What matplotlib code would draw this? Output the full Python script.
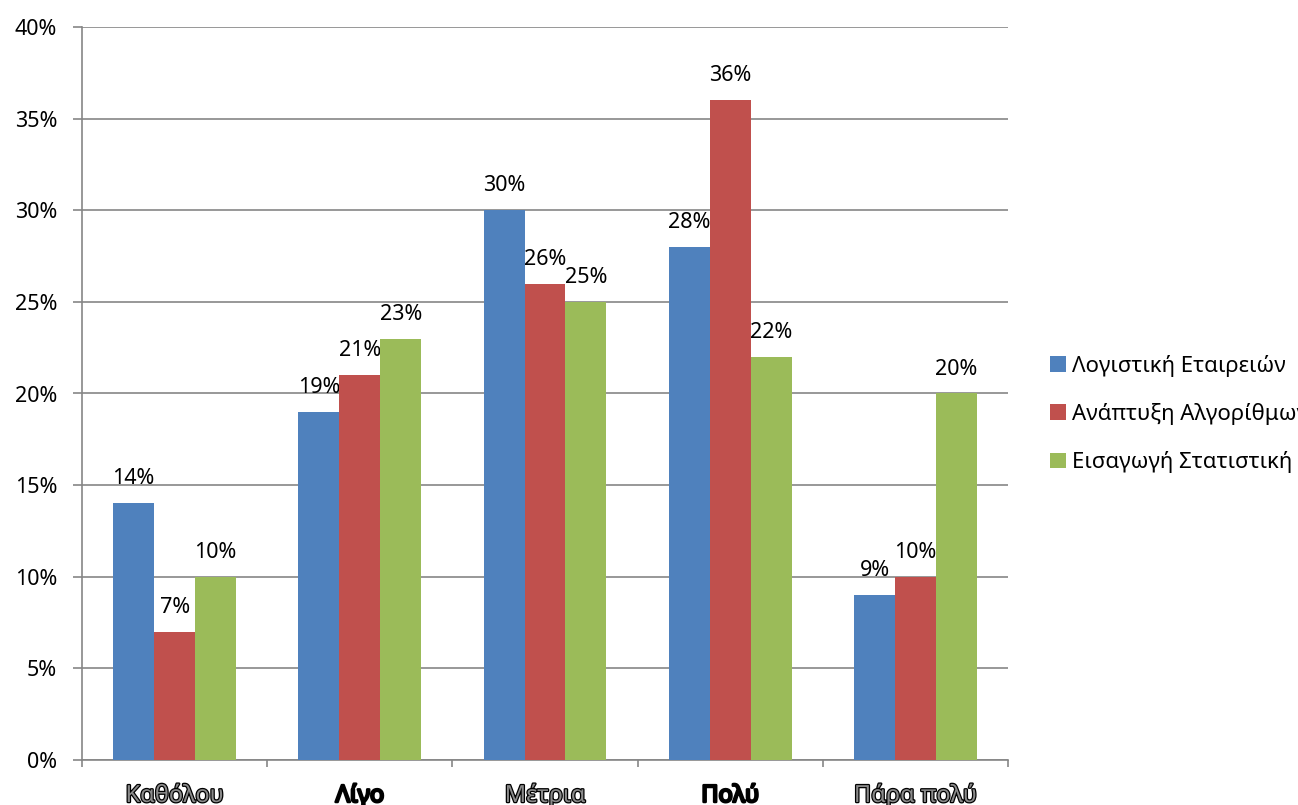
import matplotlib
matplotlib.use("Agg")
import matplotlib.pyplot as plt
import matplotlib.patheffects as pe
import numpy as np

plt.rcParams['font.family'] = ['Noto Sans', 'DejaVu Sans']

categories = ["Καθόλου", "Λίγο", "Μέτρια", "Πολύ", "Πάρα πολύ"]
series_names = ["Λογιστική Εταιρειών", "Ανάπτυξη Αλγορίθμων", "Εισαγωγή Στατιστική"]
logistiki = [14, 19, 30, 28, 9]
algorithmoi = [7, 21, 26, 36, 10]
statistiki = [10, 23, 25, 22, 20]
y_ticks = [0, 5, 10, 15, 20, 25, 30, 35, 40]

colors = ["#4F81BD", "#C0504D", "#9BBB59"]
grid_color = "#868686"

fig = plt.figure(figsize=(12.98, 8.05), dpi=100)
ax = fig.add_axes([82 / 1298, 1 - 760 / 805, 926 / 1298, 733 / 805])

x = np.arange(len(categories))
width = 0.221
all_series = [logistiki, algorithmoi, statistiki]
for i, (vals, col, name) in enumerate(zip(all_series, colors, series_names)):
    pos = x + (i - 1) * width
    ax.bar(pos, vals, width, color=col, label=name, zorder=3)
    for xp, v in zip(pos, vals):
        ax.annotate(f"{v}%", (xp, v), xytext=(0, 24.5), textcoords="offset pixels",
                    ha="center", va="center", fontsize=15.5, color="black")

ax.set_xlim(-0.5, len(categories) - 0.5)
ax.set_ylim(0, 40)
ax.set_yticks(y_ticks)
ax.set_yticklabels([f"{t}%" for t in y_ticks], fontsize=15.5)
ax.yaxis.grid(True, color=grid_color, linewidth=1.2, zorder=0)
ax.set_axisbelow(True)

# tick marks sit on the category boundaries
ax.set_xticks(np.arange(len(categories) + 1) - 0.5)
ax.set_xticklabels([])
ax.tick_params(axis="x", length=5, width=1.2, color=grid_color, direction="out")
ax.tick_params(axis="y", length=6.5, width=1.2, color=grid_color, direction="out", pad=11.5)

outlined = {"Καθόλου", "Μέτρια", "Πάρα πολύ"}
for xi, cat in zip(x, categories):
    fill = "#8a8a8a" if cat in outlined else "black"
    ax.annotate(cat, (xi, 0), xytext=(0, -36), textcoords="offset pixels",
                ha="center", va="center", fontsize=17, color=fill,
                annotation_clip=False,
                path_effects=[pe.withStroke(linewidth=1.8, foreground="black")])

for side in ["top", "right"]:
    ax.spines[side].set_visible(False)
for side in ["left", "bottom"]:
    ax.spines[side].set_color(grid_color)
    ax.spines[side].set_linewidth(1.2)

fig.legend(loc="upper left", bbox_to_anchor=(1041 / 1298, 1 - 346 / 805),
           frameon=False, fontsize=16, handlelength=0.72, handleheight=0.72,
           handletextpad=0.26, labelspacing=1.18, borderaxespad=0)

fig.savefig("out.png", dpi=100)
